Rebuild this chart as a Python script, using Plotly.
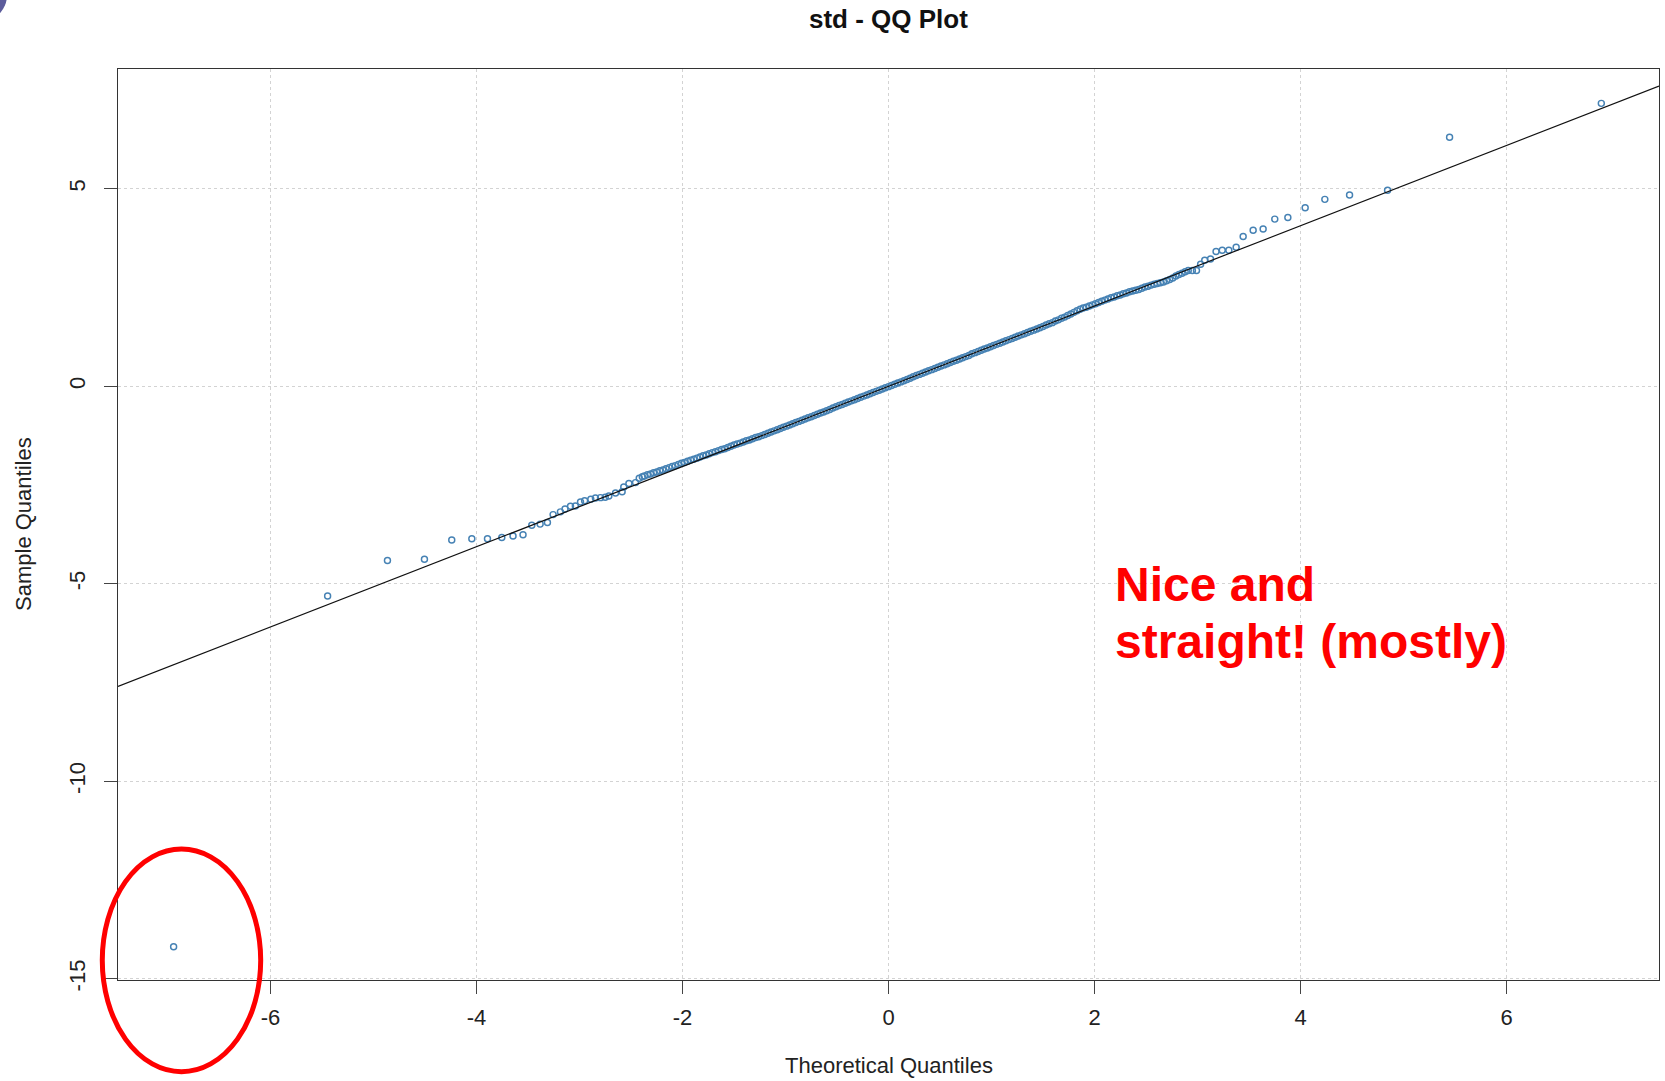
import plotly.graph_objects as go

# Normal QQ plot of the standardized series: theoretical vs. sample quantiles
theoretical = [
    # lower tail
    -6.94, -5.445, -4.864, -4.505, -4.24, -4.045, -3.893, -3.754, -3.645, -3.548,
    -3.463, -3.382, -3.311, -3.256, -3.185, -3.14, -3.087, -3.04, -2.99, -2.95,
    -2.89, -2.845, -2.796, -2.75, -2.715, -2.65, -2.586, -2.57, -2.52, -2.456,
    -2.42, -2.39,
    # dense body
    -2.37, -2.34, -2.31, -2.28, -2.25, -2.22, -2.19, -2.16, -2.13, -2.10,
    -2.07, -2.04, -2.01, -1.98, -1.95, -1.92, -1.89, -1.86, -1.83, -1.80,
    -1.77, -1.74, -1.71, -1.68, -1.65, -1.62, -1.59, -1.56, -1.53, -1.50,
    -1.47, -1.44, -1.41, -1.38, -1.35, -1.32, -1.29, -1.26, -1.23, -1.20,
    -1.17, -1.14, -1.11, -1.08, -1.05, -1.02, -0.99, -0.96, -0.93, -0.90,
    -0.87, -0.84, -0.81, -0.78, -0.75, -0.72, -0.69, -0.66, -0.63, -0.60,
    -0.57, -0.54, -0.51, -0.48, -0.45, -0.42, -0.39, -0.36, -0.33, -0.30,
    -0.27, -0.24, -0.21, -0.18, -0.15, -0.12, -0.09, -0.06, -0.03, 0.00,
    0.03, 0.06, 0.09, 0.12, 0.15, 0.18, 0.21, 0.24, 0.27, 0.30,
    0.33, 0.36, 0.39, 0.42, 0.45, 0.48, 0.51, 0.54, 0.57, 0.60,
    0.63, 0.66, 0.69, 0.72, 0.75, 0.78, 0.81, 0.84, 0.87, 0.90,
    0.93, 0.96, 0.99, 1.02, 1.05, 1.08, 1.11, 1.14, 1.17, 1.20,
    1.23, 1.26, 1.29, 1.32, 1.35, 1.38, 1.41, 1.44, 1.47, 1.50,
    1.53, 1.56, 1.59, 1.62, 1.65, 1.68, 1.71, 1.74, 1.77, 1.80,
    1.83, 1.86, 1.89, 1.92, 1.95, 1.98, 2.01, 2.04, 2.07, 2.10,
    2.13, 2.16, 2.19, 2.22, 2.25, 2.28, 2.31, 2.34, 2.37, 2.40,
    2.43, 2.46, 2.49, 2.52, 2.55, 2.58, 2.61, 2.64, 2.67, 2.70,
    2.73, 2.76, 2.79, 2.82, 2.85, 2.88, 2.91, 2.95, 2.99,
    # upper tail
    3.03, 3.07, 3.126, 3.18, 3.24, 3.304, 3.375, 3.443, 3.54, 3.637,
    3.75, 3.877, 4.045, 4.236, 4.476, 4.845, 5.447, 6.92,
]
sample = [
    # lower tail
    -14.19, -5.31, -4.41, -4.38, -3.89, -3.86, -3.86, -3.83, -3.79, -3.76,
    -3.52, -3.49, -3.45, -3.25, -3.18, -3.11, -3.04, -3.03, -2.93, -2.90,
    -2.86, -2.83, -2.82, -2.81, -2.78, -2.70, -2.67, -2.55, -2.46, -2.44,
    -2.33, -2.29,
    # dense body
    -2.27, -2.24, -2.22, -2.19, -2.17, -2.14, -2.12, -2.09, -2.06, -2.03,
    -2.01, -1.98, -1.95, -1.93, -1.90, -1.87, -1.85, -1.82, -1.79, -1.76,
    -1.74, -1.71, -1.68, -1.66, -1.63, -1.60, -1.58, -1.55, -1.52, -1.49,
    -1.46, -1.44, -1.41, -1.38, -1.36, -1.33, -1.30, -1.28, -1.25, -1.22,
    -1.19, -1.16, -1.13, -1.10, -1.07, -1.04, -1.01, -0.98, -0.95, -0.92,
    -0.89, -0.86, -0.83, -0.80, -0.77, -0.74, -0.71, -0.68, -0.65, -0.62,
    -0.59, -0.55, -0.52, -0.49, -0.46, -0.43, -0.40, -0.37, -0.34, -0.31,
    -0.28, -0.25, -0.22, -0.19, -0.16, -0.13, -0.10, -0.07, -0.04, -0.01,
    0.02, 0.05, 0.08, 0.11, 0.14, 0.17, 0.20, 0.24, 0.27, 0.30,
    0.33, 0.36, 0.39, 0.42, 0.45, 0.48, 0.51, 0.54, 0.57, 0.60,
    0.63, 0.66, 0.69, 0.72, 0.75, 0.78, 0.82, 0.85, 0.88, 0.91,
    0.94, 0.97, 1.00, 1.03, 1.06, 1.09, 1.12, 1.15, 1.18, 1.21,
    1.24, 1.27, 1.30, 1.33, 1.36, 1.39, 1.42, 1.45, 1.48, 1.51,
    1.55, 1.58, 1.61, 1.65, 1.68, 1.72, 1.75, 1.79, 1.83, 1.87,
    1.91, 1.95, 1.98, 2.00, 2.03, 2.06, 2.09, 2.12, 2.15, 2.18,
    2.21, 2.24, 2.26, 2.29, 2.31, 2.34, 2.36, 2.39, 2.41, 2.43,
    2.45, 2.48, 2.51, 2.53, 2.56, 2.58, 2.60, 2.62, 2.64, 2.67,
    2.70, 2.74, 2.79, 2.83, 2.86, 2.90, 2.93, 2.93, 2.93,
    # upper tail
    3.09, 3.19, 3.22, 3.41, 3.44, 3.44, 3.52, 3.79, 3.95, 3.98,
    4.23, 4.27, 4.52, 4.73, 4.84, 4.96, 6.30, 7.16,
]

# Reference line through the quartiles
line_slope = 1.016
line_intercept = 0.0

x_range = [-7.48, 7.48]
y_range = [-15.03, 8.03]
x_ticks = [-6, -4, -2, 0, 2, 4, 6]
x_tick_text = ["-6", "-4", "-2", "0", "2", "4", "6"]
y_ticks = [-15, -10, -5, 0, 5]
y_tick_text = ["-15", "-10", "-5", "0", "5"]

FONT = "Liberation Sans, Arial, Helvetica, sans-serif"

fig = go.Figure()

fig.add_trace(go.Scatter(
    x=theoretical, y=sample, mode="markers",
    marker=dict(symbol="circle-open", size=6, color="#4682B4",
                line=dict(width=1.45, color="#4682B4")),
    showlegend=False, hoverinfo="x+y",
))

fig.add_trace(go.Scatter(
    x=x_range,
    y=[line_intercept + line_slope * v for v in x_range],
    mode="lines", line=dict(color="#111111", width=1.2),
    showlegend=False, hoverinfo="skip",
))

axis_common = dict(
    showline=True, mirror=True, linecolor="#333333", linewidth=1.3,
    ticks="outside", ticklen=13, tickwidth=1.3, tickcolor="#444444",
    showgrid=True, gridcolor="#d3d3d3", griddash="dot", gridwidth=1,
    zeroline=False, tickfont=dict(family=FONT, size=22, color="#222222"),
)

fig.update_layout(
    width=1665, height=1081,
    margin=dict(l=118, r=6, t=69, b=101),
    paper_bgcolor="white", plot_bgcolor="white",
    xaxis=dict(range=x_range, tickvals=x_ticks, ticktext=x_tick_text,
               ticklabelstandoff=4, **axis_common),
    yaxis=dict(range=y_range, tickvals=y_ticks, ticktext=y_tick_text,
               tickangle=-90, ticklabelstandoff=10, **axis_common),
    font=dict(family=FONT, color="#222222"),
)

fig.add_annotation(text="<b>std - QQ Plot</b>", xref="paper", yref="paper",
                   x=0.5, y=1.0549, xanchor="center", yanchor="middle",
                   showarrow=False, font=dict(family=FONT, size=26, color="#111111"))
fig.add_annotation(text="Theoretical Quantiles", xref="paper", yref="paper",
                   x=0.5, y=-0.0944, xanchor="center", yanchor="middle",
                   showarrow=False, font=dict(family=FONT, size=22, color="#222222"))
fig.add_annotation(text="Sample Quantiles", xref="paper", yref="paper",
                   x=-0.0614, y=0.501, xanchor="center", yanchor="middle",
                   textangle=-90, showarrow=False,
                   font=dict(family=FONT, size=22, color="#222222"))

# Red callout text
fig.add_annotation(text="<b>Nice and</b>", xref="paper", yref="paper",
                   x=0.646, y=0.4341, xanchor="left", yanchor="middle",
                   showarrow=False, font=dict(family=FONT, size=48, color="#FF0000"))
fig.add_annotation(text="<b>straight! (mostly)</b>", xref="paper", yref="paper",
                   x=0.646, y=0.3721, xanchor="left", yanchor="middle",
                   showarrow=False, font=dict(family=FONT, size=48, color="#FF0000"))

# Red ellipse around the lowest outlier
fig.add_shape(type="circle", xref="paper", yref="paper",
              x0=-0.0102, x1=0.0926, y0=-0.1007, y1=0.1438,
              line=dict(color="#FF0000", width=5), layer="above")

# Purple corner ornament
fig.add_shape(type="circle", xref="paper", yref="paper",
              x0=-0.1071, x1=-0.0720, y0=1.0516, y1=1.1109,
              fillcolor="#5c5c9c", line=dict(width=0), layer="above")

fig.write_html("out.html")
